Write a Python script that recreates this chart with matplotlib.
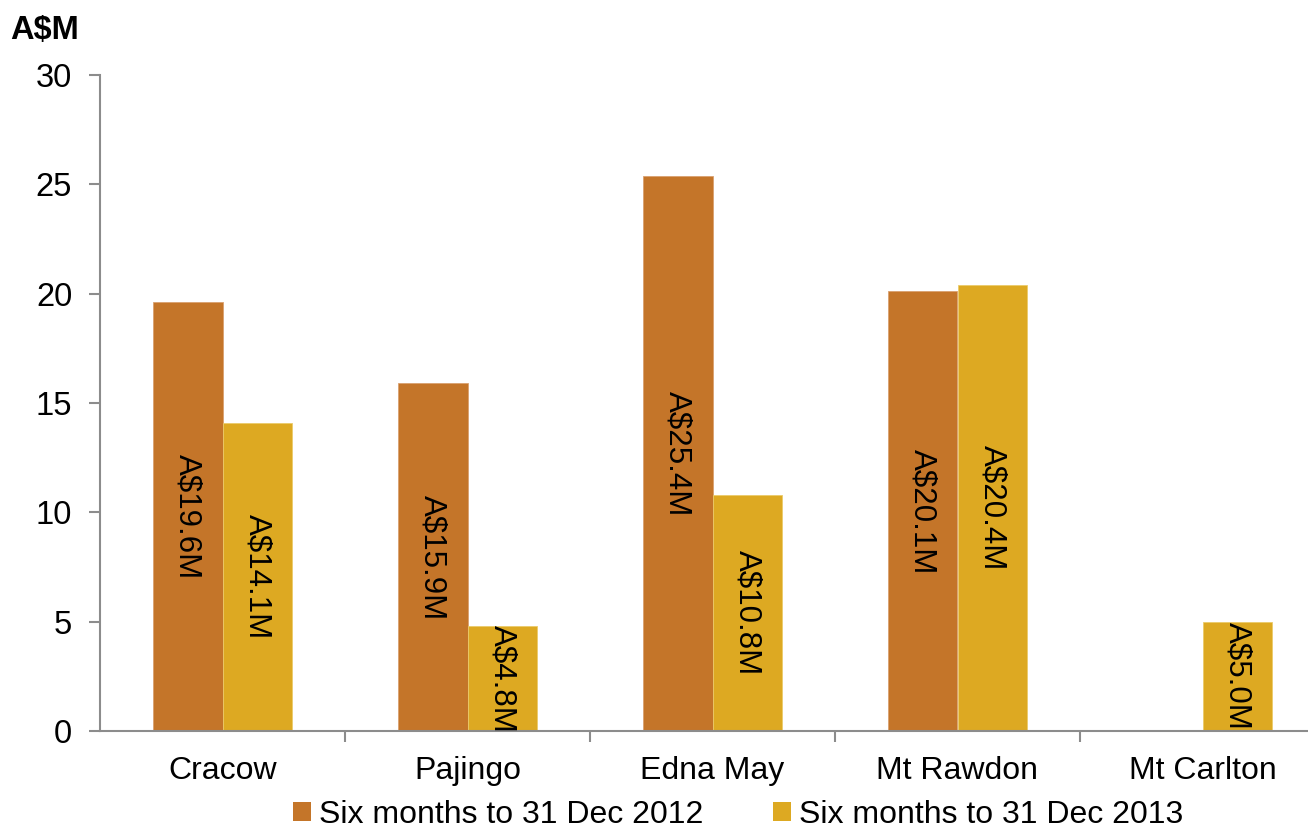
import numpy as np
import matplotlib
matplotlib.use('Agg')
import matplotlib.pyplot as plt
from matplotlib.patches import Patch

plt.rcParams['font.family'] = ['Liberation Sans', 'DejaVu Sans']

# dados
mines = ['Cracow', 'Pajingo', 'Edna May', 'Mt Rawdon', 'Mt Carlton']
val_2012 = [19.6, 15.9, 25.4, 20.1, np.nan]
val_2013 = [14.1, 4.8, 10.8, 20.4, 5.0]
series_names = ['Six months to 31 Dec 2012', 'Six months to 31 Dec 2013']
yticks = [0, 5, 10, 15, 20, 25, 30]

c2012 = '#C47529'
c2013 = '#DDA922'
grey = '#8C8C8C'

fig = plt.figure(figsize=(13.08, 8.34), dpi=100)
ax = fig.add_axes([100 / 1308, 103 / 834, 1225 / 1308, 656 / 834])

x = np.arange(len(mines))
w = 0.2857

ax.bar(x - w / 2, val_2012, w, color=c2012, edgecolor='#D9A070', linewidth=0.6)
ax.bar(x + w / 2, val_2013, w, color=c2013, edgecolor='#EBCB6A', linewidth=0.6)

# rotulos dentro das barras
for xs, vals in [(x - w / 2, val_2012), (x + w / 2, val_2013)]:
    for xi, v in zip(xs, vals):
        if np.isnan(v):
            continue
        t = ax.text(xi, v / 2, 'A$%.1fM' % v, rotation=270, ha='center', va='center',
                    fontsize=22.5, color='black')
        t.set_clip_on(True)

ax.set_xlim(-0.5, len(mines) - 0.5)
ax.set_ylim(0, 30)
ax.set_yticks(yticks)
ax.set_yticklabels([str(v) for v in yticks], fontsize=23.5)

ax.set_xticks(x)
ax.set_xticklabels(mines, fontsize=23)
ax.set_xticks(np.arange(0.5, len(mines) - 0.5, 1), minor=True)
ax.tick_params(axis='x', which='major', length=0, pad=18)
ax.tick_params(axis='x', which='minor', length=8, width=1.5, color=grey, direction='out')
ax.tick_params(axis='y', length=8, width=1.5, color=grey, direction='out', pad=12)

for s in ['top', 'right']:
    ax.spines[s].set_visible(False)
for s in ['left', 'bottom']:
    ax.spines[s].set_color(grey)
    ax.spines[s].set_linewidth(1.5)

fig.text(10 / 1308, 1 - 30 / 834, 'A$M', fontsize=23.5, fontweight='bold', va='center', ha='left')

handles = [Patch(facecolor=c2012), Patch(facecolor=c2013)]
fig.legend(handles, series_names, loc='center', bbox_to_anchor=(738 / 1308, 1 - 815 / 834),
           ncol=2, frameon=False, fontsize=23, handlelength=0.55, handleheight=0.55,
           handletextpad=0.25, columnspacing=2.2, borderaxespad=0)

fig.savefig('out.png', dpi=100)
